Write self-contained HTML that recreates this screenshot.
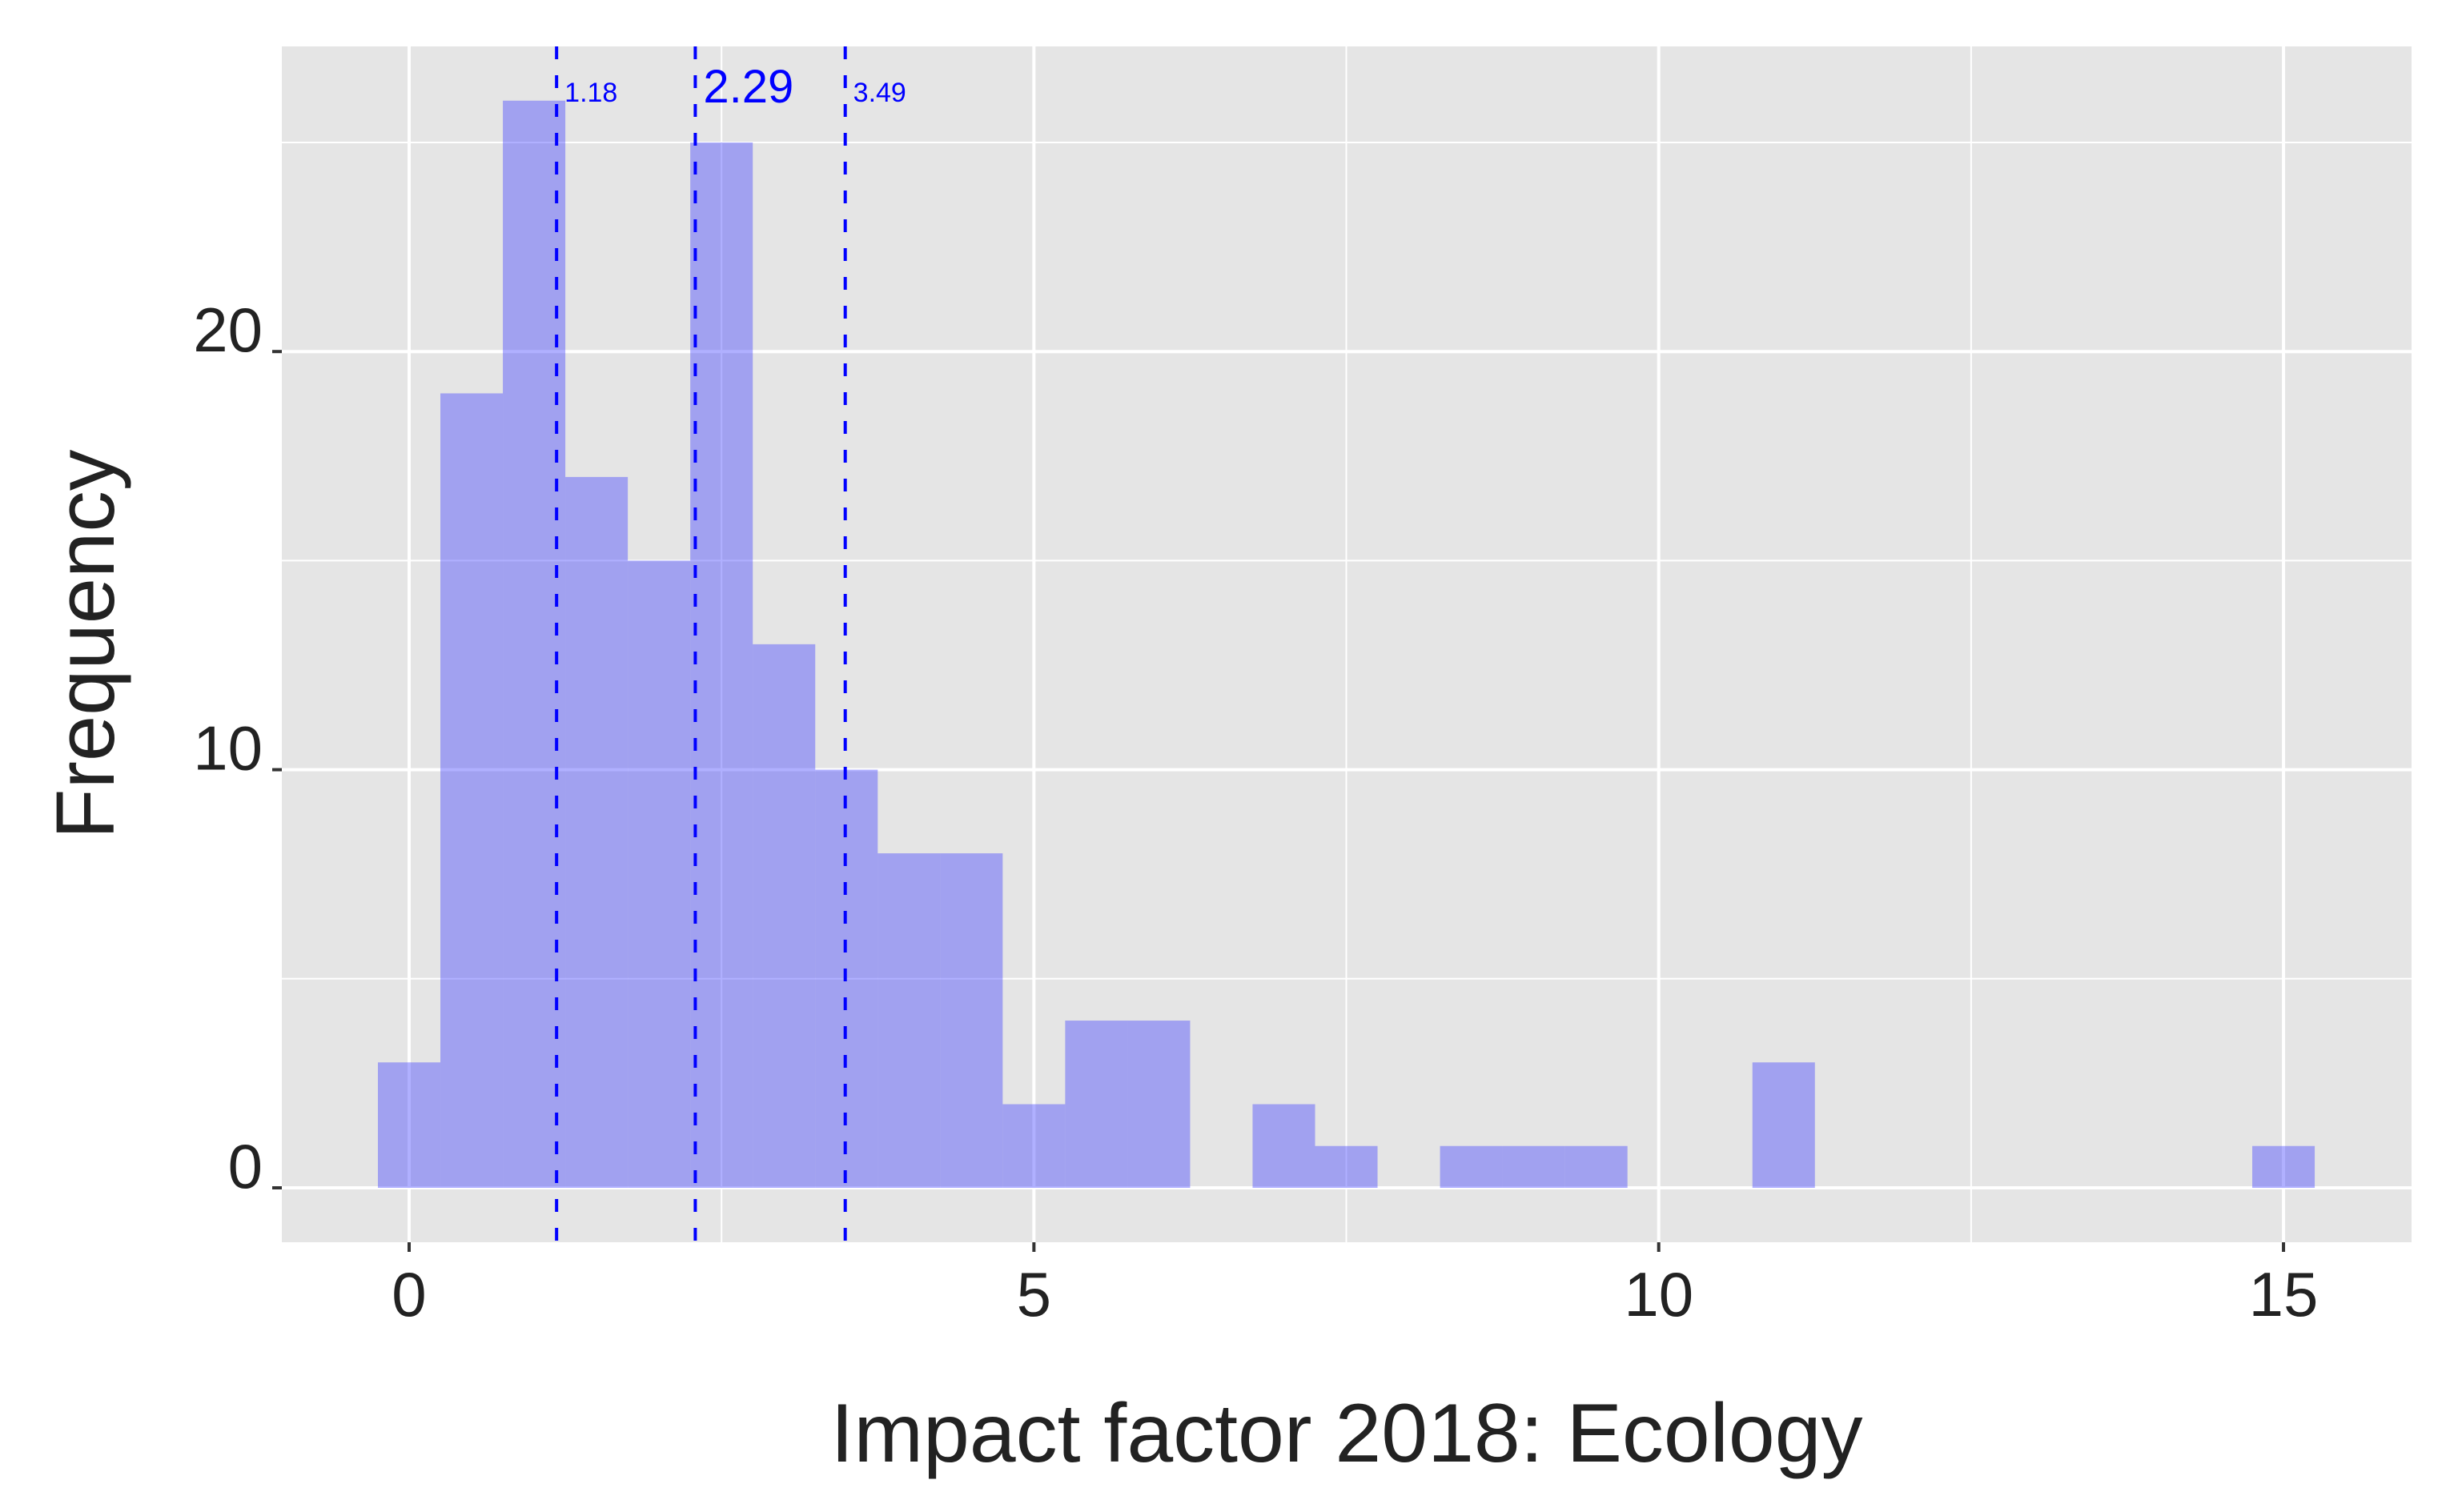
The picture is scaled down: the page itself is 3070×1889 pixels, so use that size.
<!DOCTYPE html>
<html><head><meta charset="utf-8"><style>
body{margin:0;background:#fff}
svg{display:block;font-family:"Liberation Sans",sans-serif}
</style></head><body>
<svg id="c" width="3070" height="1889" viewBox="0 0 3070 1889" xmlns="http://www.w3.org/2000/svg">
<rect x="352" y="58" width="2660" height="1494" fill="#e5e5e5"/>
<g id="grid"></g><g id="bars"></g><g id="vlines"></g><g id="axes"></g>
<text x="1682" y="1826" font-size="104" text-anchor="middle" fill="#222">Impact factor 2018: Ecology</text>
<text transform="translate(142,805) rotate(-90)" font-size="103" text-anchor="middle" fill="#222">Frequency</text>
</svg>
<script>
const binCenters=[0,0.5,1,1.5,2,2.5,3,3.5,4,4.5,5,5.5,6,6.5,7,7.5,8,8.5,9,9.5,10,10.5,11,11.5,12,12.5,13,13.5,14,14.5,15];
const counts=[3,19,26,17,15,25,13,10,8,8,2,4,4,0,2,1,0,1,1,1,0,0,3,0,0,0,0,0,0,0,1];
const binWidth=0.5;
const refValues=[1.18,2.29,3.49];
const refLabels=["1.18","2.29","3.49"];
const xTicks=[0,5,10,15];
const yTicks=[0,10,20];
const xMinor=[2.5,7.5,12.5];
const yMinor=[5,15,25];
const NS="http://www.w3.org/2000/svg";
const X=v=>511+v*156.07, Y=v=>1484-v*52.24;
function mk(tag,attrs,parent){const e=document.createElementNS(NS,tag);for(const k in attrs)e.setAttribute(k,attrs[k]);document.getElementById(parent).appendChild(e);return e;}
xMinor.forEach(v=>{const l=mk('line',{x1:X(v),x2:X(v),y1:58,y2:1552,stroke:'#fff','stroke-width':2},'grid');

});
yMinor.forEach(v=>{const l=mk('line',{x1:352,x2:3012,y1:Y(v),y2:Y(v),stroke:'#fff','stroke-width':2},'grid');

});
xTicks.forEach(v=>{const l=mk('line',{x1:X(v),x2:X(v),y1:58,y2:1552,stroke:'#fff','stroke-width':4},'grid');


const t=mk('line',{x1:X(v),x2:X(v),y1:1552,y2:1564,stroke:'#333','stroke-width':4},'axes');


const tx=mk('text',{x:X(v),y:1644,'font-size':78,'text-anchor':'middle',fill:'#222'},'axes');tx.textContent=v;

});
yTicks.forEach(v=>{const l=mk('line',{x1:352,x2:3012,y1:Y(v),y2:Y(v),stroke:'#fff','stroke-width':4},'grid');


const t=mk('line',{x1:340,x2:352,y1:Y(v),y2:Y(v),stroke:'#333','stroke-width':4},'axes');


const tx=mk('text',{x:328,y:Y(v),'font-size':78,'text-anchor':'end',fill:'#222'},'axes');tx.textContent=v;

});
binCenters.forEach((c,i)=>{if(!counts[i])return;
const r=mk('rect',{x:X(c-binWidth/2),y:Y(counts[i]),width:X(c+binWidth/2)-X(c-binWidth/2),height:Y(0)-Y(counts[i]),fill:'rgba(67,67,255,0.42)'},'bars');

});
const sizes=[34,58,34];
refValues.forEach((v,i)=>{const l=mk('line',{x1:X(v),x2:X(v),y1:58,y2:1552,stroke:'#0000ff','stroke-width':4,'stroke-dasharray':'16,20'},'vlines');


const t=mk('text',{x:X(v)+10,y:i==1?128:127,'font-size':sizes[i],fill:'#0000ff'},'vlines');t.textContent=refLabels[i];

});
</script>
</body></html>
